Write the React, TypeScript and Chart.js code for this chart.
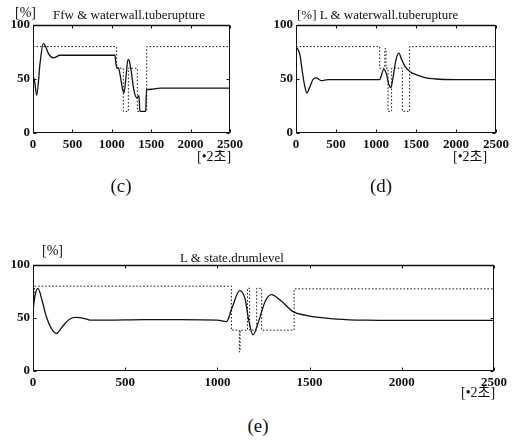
import React, { useEffect, useRef } from "react";
import { Chart, registerables } from "chart.js";
Chart.register(...registerables);

const X_TICKS = [0, 500, 1000, 1500, 2000, 2500];
const Y_TICKS = [0, 50, 100];
const X_UNIT = "[•2초]";

// (c) Ffw & waterwall.tuberupture
const C_RESP_T = [0, 20, 47, 90, 131, 160, 200, 258, 343, 500, 800, 1040, 1052, 1062, 1085, 1110, 1135, 1155, 1180, 1205, 1215, 1240, 1280, 1316, 1345, 1356, 1430, 1440, 1500, 1612, 1800, 2500];
const C_RESP_V = [53, 48, 35, 65, 83, 80, 73, 69.5, 72, 72, 72, 72, 64, 61, 60, 52, 41, 37, 52, 68, 68, 60, 40, 32.5, 34.5, 20, 20, 40, 40.5, 41.5, 41.5, 41.5];
const C_REF_T = [0, 1062, 1062, 1146, 1146, 1210, 1210, 1324, 1324, 1443, 1443, 2500];
const C_REF_V = [80, 80, 60, 60, 20, 20, 60, 60, 20, 20, 80, 80];

// (d) L & waterwall.tuberupture
const D_RESP_T = [0, 20, 50, 77, 106, 135, 170, 210, 252, 315, 400, 700, 1000, 1046, 1062, 1096, 1130, 1160, 1185, 1210, 1250, 1285, 1320, 1360, 1422, 1500, 1600, 1750, 2000, 2500];
const D_RESP_V = [79, 78, 72, 58, 44.5, 37, 42, 49.3, 51, 48.5, 49.5, 49.5, 49.5, 49.5, 52, 59, 55, 45, 42, 50, 68, 74, 68, 62, 57, 54, 51.5, 50, 49.5, 49.5];
const D_REF_T = [0, 1046, 1046, 1110, 1110, 1125, 1125, 1150, 1150, 1195, 1195, 1330, 1330, 1420, 1420, 2500];
const D_REF_V = [80, 80, 60, 60, 78, 78, 60, 60, 20, 20, 60, 60, 20, 20, 80, 80];

// (e) L & state.drumlevel
const E_RESP_T = [0, 12, 27, 50, 73, 100, 127, 160, 200, 235, 280, 317, 400, 600, 800, 1000, 1049, 1080, 1121, 1150, 1170, 1193, 1220, 1260, 1293, 1340, 1410, 1480, 1555, 1645, 1800, 2000, 2500];
const E_RESP_V = [57.5, 72, 78, 66, 51, 40, 35.5, 42, 49, 50.5, 49.5, 48, 48, 48.5, 48.5, 48, 46.5, 60, 75.8, 68, 48, 34, 45, 66, 72, 67, 56, 52.5, 50.5, 49, 48, 47.8, 47.8];
const E_REF_T = [0, 9, 1076, 1076, 1119, 1119, 1123, 1123, 1163, 1163, 1175, 1175, 1213, 1213, 1240, 1240, 1416, 1416, 2500];
const E_REF_V = [57, 80, 80, 38.5, 38.5, 18, 18, 38.5, 38.5, 78, 78, 38.5, 38.5, 78, 78, 38.5, 38.5, 77.5, 77.5];

const FONT = "'Liberation Serif', 'DejaVu Serif', 'Noto Sans CJK KR', serif";
const INK = "#111";

type Box = { left: number; top: number; width: number; height: number; pl: number; pt: number; pr: number; pb: number };
type Series = { t: number[]; v: number[]; dotted: boolean };

const zip = (t: number[], v: number[]) => t.map((x, i) => ({ x, y: v[i] }));

const framePlugin = {
  id: "frame",
  afterDatasetsDraw(chart: any) {
    const { ctx, chartArea: a, scales } = chart;
    ctx.save();
    ctx.strokeStyle = INK;
    ctx.lineWidth = 1;
    const L = Math.round(a.left) + 0.5, R = Math.round(a.right) - 0.5;
    const T = Math.round(a.top) + 0.5, B = Math.round(a.bottom) - 0.5;
    ctx.strokeRect(L, T, R - L, B - T);
    ctx.lineWidth = 1.6;
    ctx.beginPath();
    ctx.moveTo(L, T);
    ctx.lineTo(R, T);
    ctx.stroke();
    ctx.lineWidth = 1;
    ctx.beginPath();
    for (const v of X_TICKS) {
      const x = Math.round(scales.x.getPixelForValue(v)) + 0.5;
      ctx.moveTo(x, B); ctx.lineTo(x, B - 3);
      ctx.moveTo(x, T); ctx.lineTo(x, T + 3);
    }
    for (const v of Y_TICKS) {
      const y = Math.round(scales.y.getPixelForValue(v)) + 0.5;
      ctx.moveTo(L, y); ctx.lineTo(L + 3, y);
      ctx.moveTo(R, y); ctx.lineTo(R - 3, y);
    }
    ctx.stroke();
    ctx.restore();
  },
};

function Panel({ box, series }: { box: Box; series: Series[] }) {
  const ref = useRef<HTMLCanvasElement>(null);
  useEffect(() => {
    const tickFont = { family: FONT, size: 13, weight: "bold" as const };
    const chart = new Chart(ref.current as HTMLCanvasElement, {
      type: "line",
      data: {
        datasets: series.map((s) => ({
          data: zip(s.t, s.v),
          borderColor: INK,
          borderWidth: s.dotted ? 1 : 1.3,
          borderDash: s.dotted ? [1.5, 2] : [],
          pointRadius: 0,
          fill: false,
          tension: 0,
          cubicInterpolationMode: s.dotted ? "default" : "monotone",
        })) as any,
      },
      options: {
        responsive: false,
        animation: false,
        events: [],
        layout: { padding: { left: 0, top: box.pt, right: box.width - box.pr, bottom: 0 } },
        plugins: { legend: { display: false }, tooltip: { enabled: false }, title: { display: false } },
        scales: {
          x: {
            type: "linear",
            min: 0,
            max: 2500,
            afterBuildTicks: (s: any) => { s.ticks = X_TICKS.map((value) => ({ value })); },
            afterFit: (s: any) => { s.height = box.height - box.pb; },
            grid: { display: false, drawTicks: false },
            border: { display: false },
            ticks: { padding: 4, maxRotation: 0, autoSkip: false, font: tickFont, color: INK, callback: (v: any) => String(v) },
          },
          y: {
            type: "linear",
            min: 0,
            max: 100,
            afterBuildTicks: (s: any) => { s.ticks = Y_TICKS.map((value) => ({ value })); },
            afterFit: (s: any) => { s.width = box.pl; },
            grid: { display: false, drawTicks: false },
            border: { display: false },
            ticks: { padding: 3, font: tickFont, color: INK, callback: (v: any) => String(v) },
          },
        },
      } as any,
      plugins: [framePlugin],
    });
    return () => chart.destroy();
  }, []);
  return (
    <canvas
      ref={ref}
      width={box.width}
      height={box.height}
      style={{ position: "absolute", left: box.left, top: box.top, width: box.width, height: box.height }}
    />
  );
}

function T({ x, y, size, children, center }: { x: number; y: number; size: number; children: any; center?: boolean }) {
  return (
    <div
      style={{
        position: "absolute",
        left: x,
        top: y - size / 2,
        fontSize: size,
        lineHeight: `${size}px`,
        fontFamily: FONT,
        color: INK,
        whiteSpace: "nowrap",
        transform: center ? "translateX(-50%)" : undefined,
      }}
    >
      {children}
    </div>
  );
}

const BOX_C: Box = { left: 0, top: 0, width: 258, height: 165, pl: 33, pt: 25, pr: 230, pb: 133 };
const BOX_D: Box = { left: 258, top: 0, width: 259, height: 165, pl: 38, pt: 25, pr: 238, pb: 133 };
const BOX_E: Box = { left: 0, top: 240, width: 517, height: 160, pl: 33, pt: 25, pr: 494, pb: 131 };

export default function App() {
  return (
    <div style={{ position: "fixed", left: 0, top: 0, width: 517, height: 444, background: "#fff", overflow: "hidden" }}>
      <Panel box={BOX_C} series={[{ t: C_REF_T, v: C_REF_V, dotted: true }, { t: C_RESP_T, v: C_RESP_V, dotted: false }]} />
      <Panel box={BOX_D} series={[{ t: D_REF_T, v: D_REF_V, dotted: true }, { t: D_RESP_T, v: D_RESP_V, dotted: false }]} />
      <Panel box={BOX_E} series={[{ t: E_REF_T, v: E_REF_V, dotted: true }, { t: E_RESP_T, v: E_RESP_V, dotted: false }]} />

      <T x={15} y={13} size={14}>[%]</T>
      <T x={53} y={14} size={13}>Ffw &amp; waterwall.tuberupture</T>
      <T x={197} y={157} size={14}>{X_UNIT}</T>
      <T x={121} y={185} size={19} center>(c)</T>

      <T x={297} y={14} size={13}>[%] L &amp; waterwall.tuberupture</T>
      <T x={453} y={157} size={14}>{X_UNIT}</T>
      <T x={381} y={185} size={19} center>(d)</T>

      <T x={42} y={251} size={14}>[%]</T>
      <T x={180} y={257} size={13}>L &amp; state.drumlevel</T>
      <T x={461} y={393} size={14}>{X_UNIT}</T>
      <T x={258} y={425} size={19} center>(e)</T>
    </div>
  );
}
